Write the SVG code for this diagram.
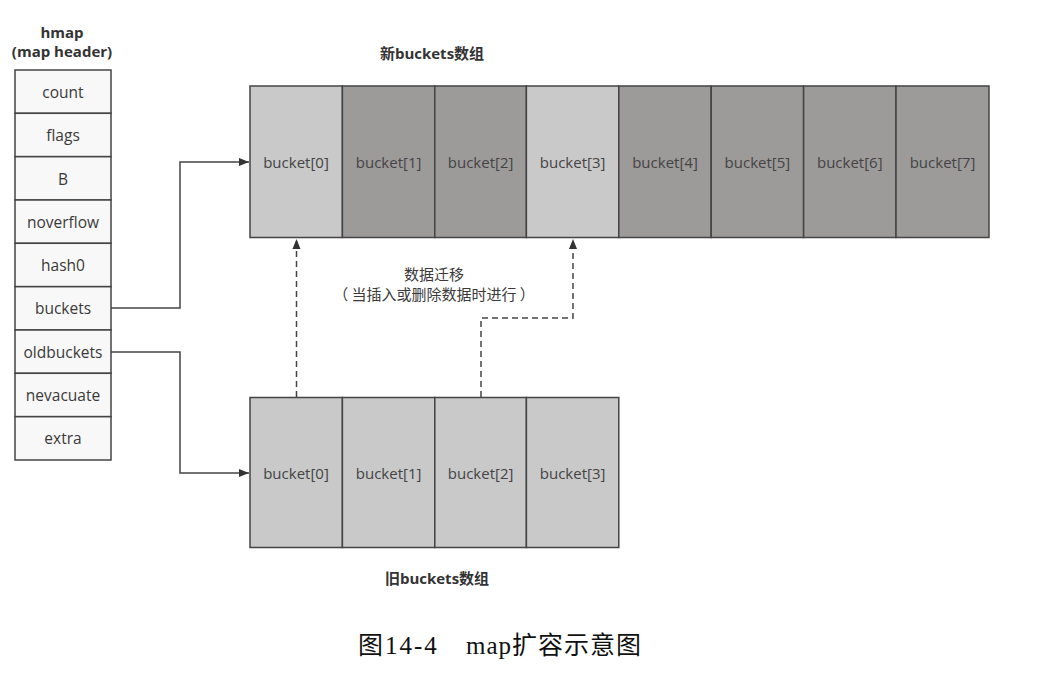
<svg xmlns="http://www.w3.org/2000/svg" width="1050" height="673" viewBox="0 0 1050 673">
<defs>
<style>
.t{font-family:"Open Sans","Noto Sans","Noto Sans CJK SC",sans-serif;font-size:15.5px;fill:#3a3a3a;text-anchor:middle;dominant-baseline:central}
.m{font-family:"Noto Sans CJK SC","Open Sans",sans-serif;font-size:15px;fill:#3a3a3a;text-anchor:middle;dominant-baseline:central}
.h{font-family:"Open Sans","Noto Sans","Noto Sans CJK SC",sans-serif;font-size:15px;font-weight:bold;fill:#333;text-anchor:middle;dominant-baseline:central}
.cell{fill:#f8f8f8;stroke:#444;stroke-width:1.5}
.lt{fill:#c9c9c9;stroke:#444;stroke-width:1.5}
.dk{fill:#9d9a9a;stroke:#444;stroke-width:1.5}
.bt{font-family:"Open Sans","Noto Sans",sans-serif;font-size:15px;fill:#444;text-anchor:middle;dominant-baseline:central}
.ln{fill:none;stroke:#444;stroke-width:1.5}
.ds{fill:none;stroke:#444;stroke-width:1.5;stroke-dasharray:6 4}
.cap{font-family:"Liberation Serif","Noto Sans CJK SC",serif;font-size:25px;fill:#111;dominant-baseline:central}
</style>
<marker id="ah" viewBox="0 0 10 10" refX="10" refY="5" markerWidth="10" markerHeight="10" markerUnits="userSpaceOnUse" orient="auto">
<path d="M0,1 L10,5 L0,9 z" fill="#333"/>
</marker>
</defs>
<rect width="1050" height="673" fill="#fff"/>

<g id="hmap">
<text class="h" x="62" y="32">hmap</text>
<text class="h" x="62" y="51">(map header)</text>
<rect class="cell" x="15" y="70" width="96" height="43.3"/><text class="t" x="63" y="92">count</text>
<rect class="cell" x="15" y="113.3" width="96" height="43.3"/><text class="t" x="63" y="135">flags</text>
<rect class="cell" x="15" y="156.7" width="96" height="43.3"/><text class="t" x="63" y="179">B</text>
<rect class="cell" x="15" y="200" width="96" height="43.3"/><text class="t" x="63" y="222">noverflow</text>
<rect class="cell" x="15" y="243.3" width="96" height="43.3"/><text class="t" x="63" y="265">hash0</text>
<rect class="cell" x="15" y="286.7" width="96" height="43.3"/><text class="t" x="63" y="308">buckets</text>
<rect class="cell" x="15" y="330" width="96" height="43.3"/><text class="t" x="63" y="352">oldbuckets</text>
<rect class="cell" x="15" y="373.3" width="96" height="43.3"/><text class="t" x="63" y="395">nevacuate</text>
<rect class="cell" x="15" y="416.7" width="96" height="43.3"/><text class="t" x="63" y="438">extra</text>
</g>

<g id="new-buckets">
<text class="h" x="432" y="53">新buckets数组</text>
<rect class="lt" x="250" y="86" width="92.4" height="151.5"/><text class="bt" x="296" y="162">bucket[0]</text>
<rect class="dk" x="342.4" y="86" width="92.4" height="151.5"/><text class="bt" x="388.6" y="162">bucket[1]</text>
<rect class="dk" x="434.8" y="86" width="91.6" height="151.5"/><text class="bt" x="480.6" y="162">bucket[2]</text>
<rect class="lt" x="526.4" y="86" width="92.4" height="151.5"/><text class="bt" x="572.6" y="162">bucket[3]</text>
<rect class="dk" x="618.8" y="86" width="92.4" height="151.5"/><text class="bt" x="665" y="162">bucket[4]</text>
<rect class="dk" x="711.2" y="86" width="92.4" height="151.5"/><text class="bt" x="757.4" y="162">bucket[5]</text>
<rect class="dk" x="803.6" y="86" width="92.4" height="151.5"/><text class="bt" x="849.8" y="162">bucket[6]</text>
<rect class="dk" x="896" y="86" width="93" height="151.5"/><text class="bt" x="942.5" y="162">bucket[7]</text>
</g>

<g id="old-buckets">
<rect class="lt" x="250" y="397.5" width="92.4" height="150"/><text class="bt" x="296" y="473">bucket[0]</text>
<rect class="lt" x="342.4" y="397.5" width="92.4" height="150"/><text class="bt" x="388.6" y="473">bucket[1]</text>
<rect class="lt" x="434.8" y="397.5" width="91.6" height="150"/><text class="bt" x="480.6" y="473">bucket[2]</text>
<rect class="lt" x="526.4" y="397.5" width="92.4" height="150"/><text class="bt" x="572.6" y="473">bucket[3]</text>
<text class="h" x="437" y="578">旧buckets数组</text>
</g>

<g id="connectors">
<polyline class="ln" points="111,308 180,308 180,162 249,162" marker-end="url(#ah)"/>
<polyline class="ln" points="111,352 180,352 180,473 249,473" marker-end="url(#ah)"/>
<polyline class="ds" points="296.5,397 296.5,239" marker-end="url(#ah)"/>
<polyline class="ds" points="481,397 481,318 573,318 573,239" marker-end="url(#ah)"/>
<text class="m" x="434" y="273">数据迁移</text>
<text class="m" x="434" y="293">（ 当插入或删除数据时进行 ）</text>
</g>

<text class="cap" y="645"><tspan x="358" letter-spacing="2">图14-4</tspan><tspan x="466" letter-spacing="1">map扩容示意图</tspan></text>
</svg>
